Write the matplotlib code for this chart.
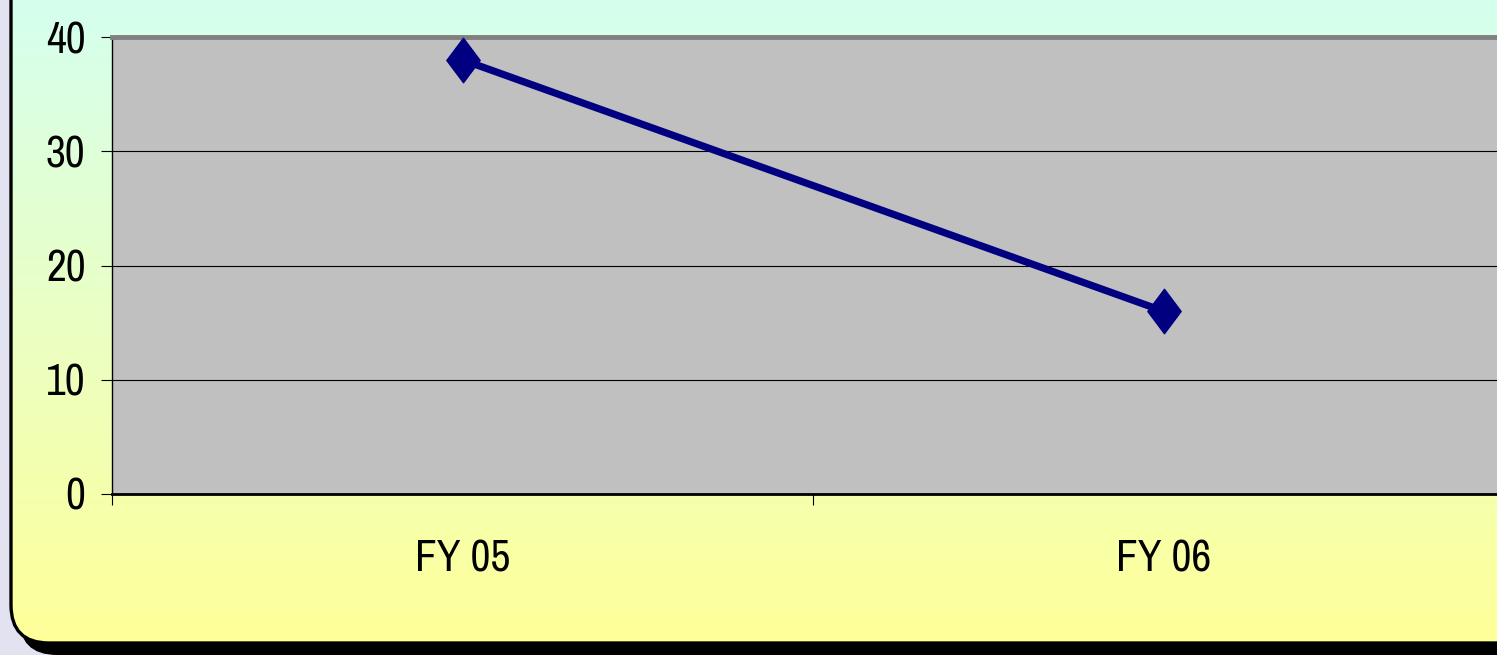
import numpy as np
import matplotlib.pyplot as plt
from matplotlib import font_manager
from matplotlib.patches import FancyBboxPatch
from matplotlib.path import Path

# data
categories = ['FY 05', 'FY 06']
values = [38, 16]
y_ticks = [0, 10, 20, 30, 40]

# pick an Arial Narrow look-alike if one is installed
names = {f.name for f in font_manager.fontManager.ttflist}
wanted = ['Liberation Sans Narrow', 'Arial Narrow', 'Arimo Narrow', 'Pragati Narrow',
          'Roboto Condensed', 'Archivo Narrow', 'PT Sans Narrow']
font = [n for n in wanted if n in names][:1] + ['Liberation Sans', 'DejaVu Sans']

W, H = 1497, 655
fig = plt.figure(figsize=(W / 100, H / 100), dpi=100)
fig.patch.set_facecolor('#E2E2F1')

# background frame in pixel coordinates
bg = fig.add_axes([0, 0, 1, 1])
bg.set_xlim(0, W)
bg.set_ylim(H, 0)
bg.axis('off')

shadow = FancyBboxPatch((19, -60), 1700, 715, boxstyle='round,pad=0,rounding_size=38',
                        facecolor='black', edgecolor='none', zorder=1)
bg.add_patch(shadow)

frame = FancyBboxPatch((11, -60), 1700, 703, boxstyle='round,pad=0,rounding_size=38',
                       facecolor='none', edgecolor='black', linewidth=2.4, zorder=3)
top = np.array([213, 255, 238]) / 255
bottom = np.array([255, 255, 153]) / 255
t = np.linspace(0, 1, 256)[:, None]
grad = (top[None, :] * (1 - t) + bottom[None, :] * t)[:, None, :]
img = bg.imshow(grad, extent=(11, 1711, 643, 0), aspect='auto', zorder=2)
img.set_clip_path(FancyBboxPatch((11, -60), 1700, 703, boxstyle='round,pad=0,rounding_size=38',
                                 transform=bg.transData))
bg.add_patch(frame)
bg.set_xlim(0, W)
bg.set_ylim(H, 0)

# plot area
left, right = 112 / W, 1514 / W
ax = fig.add_axes([left, 1 - 494 / H, right - left, (494 - 37) / H])
ax.set_facecolor('#C0C0C0')
ax.set_zorder(5)

diamond = Path([(0, 1), (0.75, 0), (0, -1), (-0.75, 0), (0, 1)],
               [Path.MOVETO, Path.LINETO, Path.LINETO, Path.LINETO, Path.CLOSEPOLY])
x = np.arange(len(categories))
ax.plot(x, values, color='#000080', linewidth=5.2, marker=diamond,
        markersize=32, markerfacecolor='#000080', markeredgecolor='#000080',
        solid_capstyle='butt', clip_on=False, zorder=4)

ax.set_xlim(-0.5, 1.5)
ax.set_ylim(0, 40)
ax.set_yticks(y_ticks)
ax.yaxis.grid(True, color='black', linewidth=0.8)
ax.set_axisbelow(True)

ax.set_xticks([-0.5, 0.5, 1.5])
ax.set_xticklabels([])
ax.set_xticks(x, minor=True)
ax.set_xticklabels(categories, minor=True)
ax.tick_params(axis='x', which='minor', length=0, pad=33)
ax.tick_params(axis='x', which='major', length=8, width=0.8, direction='out')
ax.tick_params(axis='y', length=8, width=0.8, direction='out', pad=11)

for lab in ax.get_yticklabels() + ax.get_xticklabels(minor=True):
    lab.set_family(font)
    lab.set_fontsize(34)

ax.spines['top'].set_color('#808080')
ax.spines['top'].set_linewidth(3.5)
ax.spines['right'].set_visible(False)
ax.spines['left'].set_color('black')
ax.spines['left'].set_linewidth(1)
ax.spines['bottom'].set_color('black')
ax.spines['bottom'].set_linewidth(2)

fig.savefig('out.png', dpi=100, facecolor=fig.get_facecolor())
